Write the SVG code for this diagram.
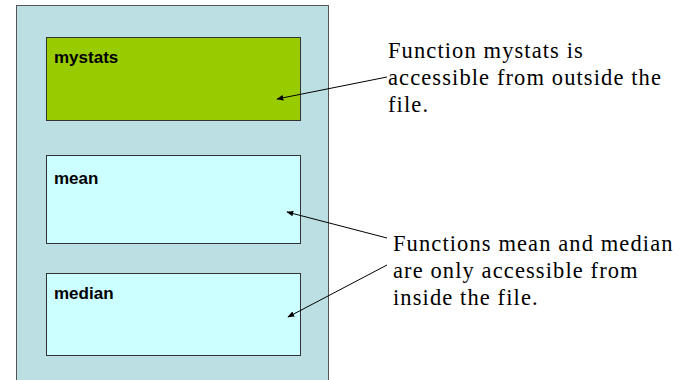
<svg xmlns="http://www.w3.org/2000/svg" width="689" height="380" viewBox="0 0 689 380">
<style>
.box{stroke:#333;stroke-width:1}
.lbl{font-family:"Liberation Sans",Arial,sans-serif;font-weight:bold;font-size:17px;fill:#000}
.note{font-family:"Liberation Serif","Times New Roman",serif;font-size:22.5px;letter-spacing:1.1px;fill:#000}
.conn{stroke:#000;stroke-width:1;fill:none;marker-end:url(#ah)}
</style>
<defs>
<marker id="ah" viewBox="0 0 10 10" refX="9" refY="5" markerWidth="7" markerHeight="7" orient="auto" markerUnits="userSpaceOnUse">
<path d="M0,1 L10,5 L0,9 z" fill="#000"/>
</marker>
</defs>
<rect width="689" height="380" fill="#fff"/>
<g id="file">
<rect x="16.5" y="5.5" width="312" height="380" fill="#BBDFE3" stroke="#555"/>
</g>
<g id="mystats">
<rect class="box" x="46.5" y="37.5" width="254" height="83" fill="#99CC00"/>
<text class="lbl" x="54" y="63">mystats</text>
</g>
<g id="mean">
<rect class="box" x="46.5" y="155.5" width="254" height="88" fill="#CCFFFF"/>
<text class="lbl" x="54" y="184">mean</text>
</g>
<g id="median">
<rect class="box" x="46.5" y="273.5" width="254" height="82" fill="#CCFFFF"/>
<text class="lbl" x="54" y="299">median</text>
</g>
<g id="connectors">
<line class="conn" x1="387" y1="77" x2="277" y2="99"/>
<line class="conn" x1="387" y1="238" x2="287" y2="212"/>
<line class="conn" x1="387" y1="265" x2="288" y2="317"/>
</g>
<g id="note1">
<text class="note" x="388" y="58">Function mystats is</text>
<text class="note" x="388" y="85">accessible from outside the</text>
<text class="note" x="388" y="112">file.</text>
</g>
<g id="note2">
<text class="note" x="393" y="251">Functions mean and median</text>
<text class="note" x="393" y="278">are only accessible from</text>
<text class="note" x="393" y="305">inside the file.</text>
</g>
</svg>
